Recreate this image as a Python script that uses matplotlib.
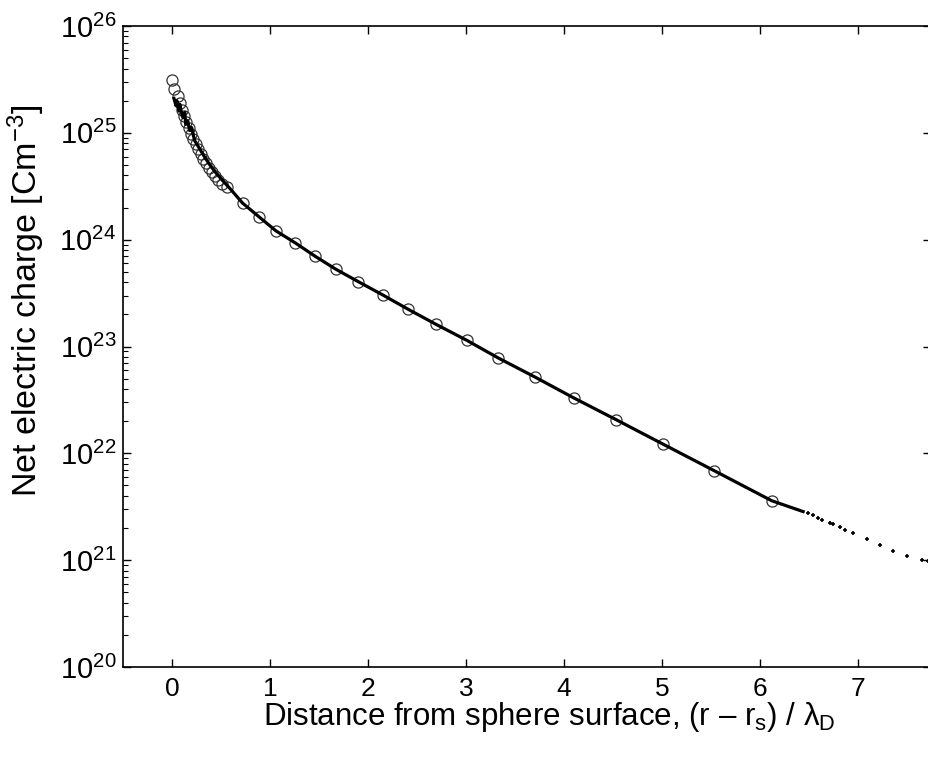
import matplotlib
matplotlib.use('Agg')
import matplotlib.pyplot as plt

plt.rcParams['font.family'] = ['Liberation Sans', 'DejaVu Sans']
plt.rcParams['mathtext.fontset'] = 'custom'
plt.rcParams['mathtext.rm'] = 'Liberation Sans'
plt.rcParams['mathtext.it'] = 'Liberation Sans'
plt.rcParams['mathtext.default'] = 'regular'

# circles (sampled points)
circ_x = [0.0, 0.02, 0.06, 0.08, 0.10, 0.12, 0.14, 0.17, 0.19, 0.21, 0.24, 0.27,
          0.30, 0.32, 0.35, 0.38, 0.41, 0.44, 0.47, 0.51, 0.56,
          0.72, 0.89, 1.06, 1.26, 1.46, 1.67, 1.90, 2.15, 2.41, 2.69, 3.01,
          3.33, 3.70, 4.10, 4.53, 5.01, 5.53, 6.12]
circ_y = [3.13e25, 2.58e25, 2.22e25, 1.91e25, 1.64e25, 1.44e25, 1.27e25, 1.11e25,
          9.8e24, 8.8e24, 7.9e24, 7.1e24, 6.35e24, 5.7e24, 5.2e24, 4.7e24, 4.3e24,
          3.95e24, 3.6e24, 3.3e24, 3.1e24,
          2.2e24, 1.63e24, 1.21e24, 9.3e23, 7.0e23, 5.3e23, 4.05e23, 3.04e23,
          2.23e23, 1.62e23, 1.14e23, 7.8e22, 5.2e22, 3.3e22, 2.07e22, 1.22e22,
          6.9e21, 3.6e21]

# solid curve (noisy near the surface)
line_x = [0.02, 0.04, 0.05, 0.07, 0.08, 0.10, 0.11, 0.13, 0.14, 0.16, 0.18, 0.20,
          0.23, 0.27, 0.32, 0.38, 0.45, 0.52, 0.60, 0.72, 0.89, 1.06, 1.26,
          1.46, 1.67, 1.90, 2.15, 2.41, 2.69, 3.01, 3.33, 3.70, 4.10, 4.53,
          5.01, 5.53, 6.12, 6.44]
line_y = [2.1e25, 1.8e25, 2.0e25, 1.6e25, 1.85e25, 1.5e25, 1.4e25, 1.55e25,
          1.2e25, 1.3e25, 1.05e25, 1.12e25, 8.5e24, 7.4e24, 6.2e24, 5.1e24,
          4.2e24, 3.55e24, 2.95e24, 2.2e24, 1.63e24, 1.21e24, 9.3e23, 7.0e23,
          5.3e23, 4.05e23, 3.04e23, 2.23e23, 1.62e23, 1.14e23, 7.8e22, 5.2e22,
          3.3e22, 2.07e22, 1.22e22, 6.9e21, 3.6e21, 2.85e21]

# sparse tail points
tail_x = [6.49, 6.54, 6.59, 6.63, 6.71, 6.74, 6.82, 6.87, 6.95, 7.09, 7.22,
          7.36, 7.50, 7.65, 7.71]
tail_y = [2.77e21, 2.65e21, 2.50e21, 2.38e21, 2.24e21, 2.17e21, 2.06e21,
          1.92e21, 1.80e21, 1.58e21, 1.39e21, 1.23e21, 1.09e21, 1.0e21, 0.98e21]

fig = plt.figure(figsize=(9.29, 7.58), dpi=100)
ax = fig.add_axes([123/929, 91/758, 808/929, 641/758])

ax.plot(circ_x, circ_y, 'o', mfc='none', mec='#333333', ms=8, mew=0.9)
ax.plot(line_x, line_y, '-', color='black', lw=2.3)
ax.plot(tail_x, tail_y, '+', color='black', ms=3, mew=1.2)

ax.set_yscale('log')
ax.set_ylim(1e20, 1e26)
ax.set_xlim(-0.5, 7.745)
ax.set_xticks(range(0, 8))
ax.set_yticks([1e20, 1e21, 1e22, 1e23, 1e24, 1e25, 1e26])
ax.set_yticklabels(['$10^{%d}$' % e for e in range(20, 27)])

ax.tick_params(which='both', direction='in', top=True, right=True)
ax.tick_params(which='major', length=6, width=1)
ax.tick_params(which='minor', length=3.5, width=0.8, right=False)
ax.tick_params(axis='x', pad=7, labelsize=19)
ax.tick_params(axis='y', pad=5, labelsize=21)
for s in ax.spines.values():
    s.set_linewidth(1.2)

ax.set_xlabel('Distance from sphere surface, (r – r$_s$) / λ$_D$', fontsize=22.5)
ax.set_ylabel('Net electric charge [Cm$^{-3}$]', fontsize=24.5)
ax.xaxis.set_label_coords(0.527, -0.052)
ax.yaxis.set_label_coords(-0.094, 0.571)

fig.savefig('out.png', dpi=100)
